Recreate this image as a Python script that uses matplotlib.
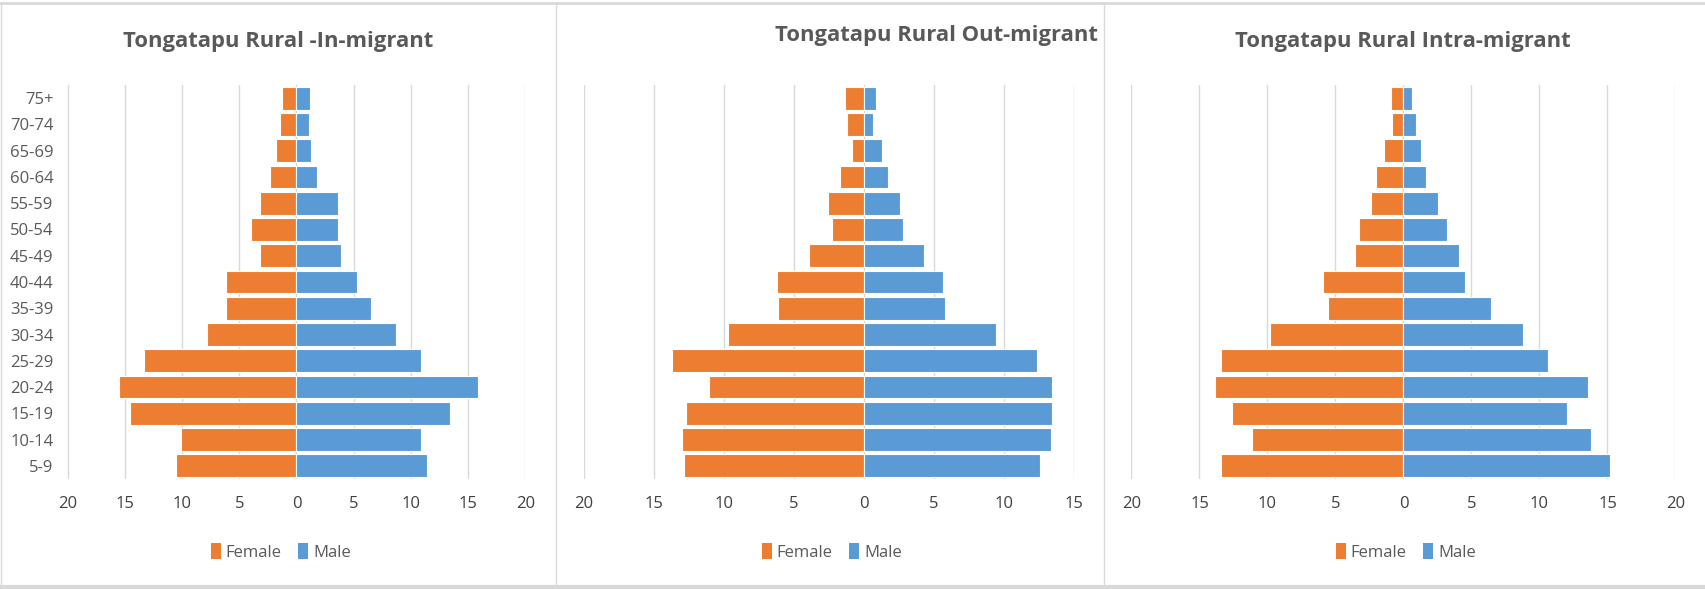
import numpy as np
import matplotlib.pyplot as plt
from matplotlib.lines import Line2D
from matplotlib.patches import Patch

# -----------------------------
# Data (percent of each group)
# -----------------------------
ages = ["5-9", "10-14", "15-19", "20-24", "25-29", "30-34", "35-39",
        "40-44", "45-49", "50-54", "55-59", "60-64", "65-69", "70-74", "75+"]

in_female = [10.5, 10.1, 14.5, 15.5, 13.35, 7.8, 6.15, 6.15, 3.15, 4.0, 3.15, 2.3, 1.8, 1.4, 1.3]
in_male = [11.4, 10.9, 13.4, 15.85, 10.9, 8.65, 6.5, 5.3, 3.9, 3.65, 3.65, 1.8, 1.3, 1.05, 1.2]

out_female = [12.85, 13.0, 12.7, 11.1, 13.7, 9.75, 6.15, 6.2, 3.9, 2.3, 2.6, 1.75, 0.85, 1.25, 1.35]
out_male = [12.55, 13.35, 13.45, 13.45, 12.35, 9.4, 5.75, 5.65, 4.3, 2.8, 2.6, 1.7, 1.3, 0.65, 0.85]

intra_female = [13.4, 11.15, 12.6, 13.85, 13.4, 9.8, 5.55, 5.95, 3.55, 3.25, 2.4, 2.0, 1.4, 0.85, 0.95]
intra_male = [15.15, 13.8, 12.0, 13.55, 10.65, 8.8, 6.4, 4.5, 4.1, 3.2, 2.55, 1.65, 1.3, 0.9, 0.6]

titles = ["Tongatapu Rural -In-migrant", "Tongatapu Rural Out-migrant",
          "Tongatapu Rural Intra-migrant"]

ORANGE = "#ED7D31"
BLUE = "#5B9BD5"
GRID = "#D9D9D9"
TXT = "#595959"
FONT = ["Open Sans", "DejaVu Sans"]

W, H = 1706, 589
fig = plt.figure(figsize=(W / 100, H / 100), dpi=100)


def px_axes(x0, x1, y0, y1):
    # pixel box (top-left origin) -> figure fraction
    return fig.add_axes([x0 / W, 1 - y1 / H, (x1 - x0) / W, (y1 - y0) / H])


panels = [
    (67.5, 525.5, (-20, 20), np.arange(-20, 21, 5), in_female, in_male, True, 278, 41, 281),
    (584, 1074, (-20, 15), np.arange(-20, 16, 5), out_female, out_male, False, 936, 35, 832),
    (1131.5, 1675.5, (-20, 20), np.arange(-20, 21, 5), intra_female, intra_male, False, 1403, 41, 1406),
]

y = np.arange(len(ages))

for k, (x0, x1, xl, ticks, fem, mal, ylab, tx, ty, lx) in enumerate(panels):
    ax = px_axes(x0, x1, 85, 479)
    ax.barh(y, -np.array(fem), height=0.87, color=ORANGE, edgecolor="white", linewidth=0.8, zorder=3)
    ax.barh(y, mal, height=0.87, color=BLUE, edgecolor="white", linewidth=0.8, zorder=3)
    ax.set_xlim(*xl)
    ax.set_ylim(-0.5, len(ages) - 0.5)
    ax.set_xticks(ticks)
    ax.set_xticklabels([str(abs(t)) for t in ticks], family=FONT, fontsize=12, color="#404040")
    ax.grid(axis="x", color=GRID, linewidth=1, zorder=0)
    ax.set_axisbelow(True)
    for s in ax.spines.values():
        s.set_visible(False)
    ax.tick_params(length=0, pad=12)
    ax.set_yticks(y)
    if ylab:
        ax.set_yticklabels(ages, family=FONT, fontsize=12, color=TXT)
        ax.tick_params(axis="y", pad=10)
    else:
        ax.set_yticklabels([])

    fig.text(tx / W, 1 - ty / H, titles[k], ha="center", va="center",
             family=FONT, fontsize=15.8, fontweight="bold", color=TXT)

    handles = [Patch(facecolor=ORANGE), Patch(facecolor=BLUE)]
    fig.legend(handles, ["Female", "Male"], loc="center", ncol=2,
               bbox_to_anchor=(lx / W, 1 - 552 / H), frameon=False,
               handlelength=0.6, handleheight=1.1, handletextpad=0.3, columnspacing=1.0,
               prop={"family": FONT, "size": 12}, labelcolor=TXT)

# panel frames
for xs in [1.5, 556.5, 1104.5]:
    fig.add_artist(Line2D([xs / W, xs / W], [2 / H, 1 - 4 / H], color=GRID, linewidth=1))
fig.add_artist(Line2D([0, 1], [1 - 3 / H, 1 - 3 / H], color=GRID, linewidth=2))
fig.add_artist(Line2D([0, 1], [2 / H, 2 / H], color=GRID, linewidth=3))

fig.savefig("out.png", dpi=100)
